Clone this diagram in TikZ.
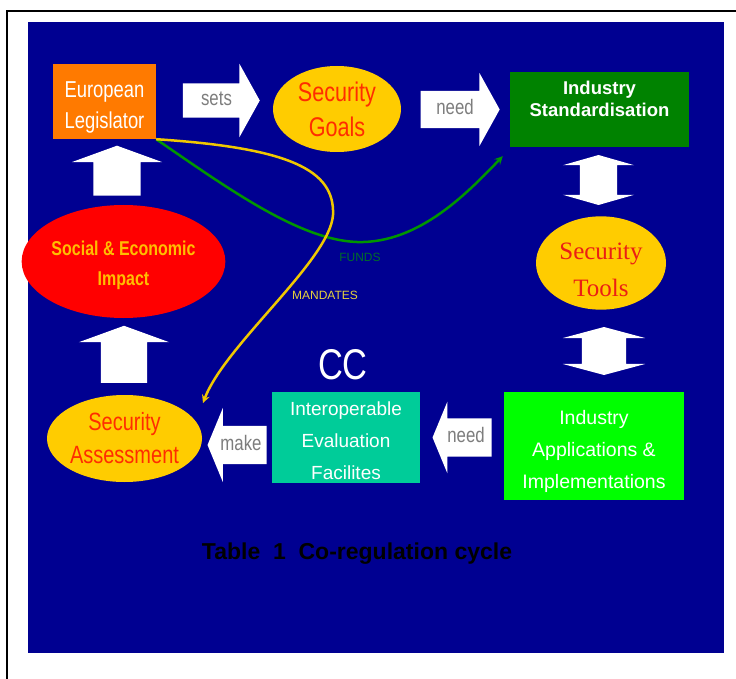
\documentclass[tikz,border=0pt]{standalone}
\usepackage{fontspec}
\setmainfont{Liberation Sans}
\newfontfamily\narrowfont[FakeStretch=0.8]{Liberation Sans}
\newfontfamily\toolsfont{Liberation Serif}
\usetikzlibrary{shapes.geometric,shapes.arrows}

\definecolor{bgblue}{RGB}{0,0,145}
\definecolor{legorange}{RGB}{255,122,0}
\definecolor{goalyellow}{RGB}{255,204,0}
\definecolor{goalred}{RGB}{255,45,0}
\definecolor{toolred}{RGB}{235,30,20}
\definecolor{stdgreen}{RGB}{0,130,0}
\definecolor{appgreen}{RGB}{0,255,0}
\definecolor{evalteal}{RGB}{0,204,153}
\definecolor{impactred}{RGB}{255,0,0}
\definecolor{impacttext}{RGB}{255,190,0}
\definecolor{fundgreen}{RGB}{0,150,0}
\definecolor{fundtext}{RGB}{0,110,40}
\definecolor{mandyellow}{RGB}{240,200,0}
\definecolor{mandtext}{RGB}{230,210,60}
\definecolor{verbgray}{RGB}{125,125,125}

\tikzset{
  box/.style={rectangle, inner sep=0pt, align=center, text=white},
  oval/.style={ellipse, inner sep=0pt, align=center},
  blockarrow/.style={single arrow, fill=white, inner xsep=1pt, text=verbgray,
    text height=14pt, text depth=4pt, font=\narrowfont\fontsize{21}{21}\selectfont},
  uparrow/.style={single arrow, fill=white, inner ysep=0pt, shape border rotate=90},
  twoway/.style={double arrow, fill=white, inner ysep=0pt, shape border rotate=90},
  link/.style={line width=2.5pt, -stealth},
}

\begin{document}
\begin{tikzpicture}[x=1pt,y=-1pt]
\useasboundingbox (0,0) rectangle (736,679);
\fill [white] (0,0) rectangle (736,679);
\fill [bgblue] (28,22) rectangle (724,653);
\draw [line width=2.5pt] (7,679) -- (7,11) -- (736,11);

% top row
\node [box, fill=legorange, minimum width=103, minimum height=75, text height=54.5pt, text depth=0pt,
  font=\narrowfont\fontsize{23}{31}\selectfont] (legislator) at (104.5,101.5) {European\\Legislator};
\node [oval, fill=goalyellow, text=goalred, minimum width=128, minimum height=86,
  font=\narrowfont\fontsize{27}{35}\selectfont] (goals) at (337,109) {Security\\Goals};
\node [box, fill=stdgreen, minimum width=179, minimum height=75] (std) at (599.5,109.5) {};
\node [anchor=north, inner sep=0pt, text=white, align=center,
  font=\bfseries\fontsize{18.5}{22}\selectfont] (stdtext) at ([yshift=-9]std.north) {Industry\\Standardisation};

% right column
\node [oval, fill=goalyellow, text=toolred, minimum width=130, minimum height=89,
  text height=66pt, text depth=0pt,
  font=\toolsfont\fontsize{25}{37}\selectfont] (tools) at (601,263) {Security\\Tools};
\node [box, fill=appgreen, minimum width=180, minimum height=108, text height=85pt, text depth=0pt,
  font=\fontsize{19.5}{32}\selectfont] (apps) at (594,446) {Industry\\Applications \&\\Implementations};

% bottom row
\node [box, fill=evalteal, minimum width=148, minimum height=91, text height=84pt, text depth=0pt,
  font=\fontsize{19}{32}\selectfont] (eval) at (346,437.5) {Interoperable\\Evaluation\\Facilites};
\node [text=white, font=\narrowfont\fontsize{43}{43}\selectfont] (cc) at (343,365) {CC};
\node [oval, fill=goalyellow, text=goalred, minimum width=155, minimum height=87,
  font=\narrowfont\fontsize{25}{33}\selectfont] (assess) at (124.5,438.5) {Security\\Assessment};

% left column
\node [oval, fill=impactred, text=impacttext, minimum width=157, minimum height=113,
  text height=48.5pt, text depth=0pt,
  font=\narrowfont\bfseries\fontsize{20}{30}\selectfont] (impact) at (123.5,261.5) {Social \& Economic\\Impact};

% block arrows
\node [blockarrow, minimum width=73, minimum height=77, inner ysep=8pt,
  single arrow head extend=19.5, single arrow tip angle=122] (sets) at (216.5,100.5) {sets};
\node [blockarrow, minimum width=73, minimum height=79, inner ysep=9.5pt,
  single arrow head extend=18, single arrow tip angle=122] (needtop) at (455,109.5) {need};
\node [blockarrow, minimum width=71, minimum height=59, inner ysep=10pt, single arrow head extend=16.5,
  single arrow tip angle=135, shape border rotate=180] (needbot) at (466,437.5) {need};
\node [blockarrow, minimum width=74, minimum height=59, inner ysep=10pt, single arrow head extend=18,
  single arrow tip angle=135, shape border rotate=180] (make) at (241,445) {make};
\node [uparrow, minimum width=90, minimum height=57, inner xsep=23pt,
  single arrow head extend=22, single arrow tip angle=140] (upb) at (124,358.5) {};
\node [uparrow, minimum width=90, minimum height=50, inner xsep=23.5pt,
  single arrow head extend=21.5, single arrow tip angle=140] (upa) at (117,175) {};
\node [twoway, minimum width=71, minimum height=50, inner xsep=18.5pt,
  double arrow head extend=17, double arrow tip angle=148] (dbla) at (598.5,180) {};
\node [twoway, minimum width=82, minimum height=48, inner xsep=22pt,
  double arrow head extend=19, double arrow tip angle=150] (dblb) at (604,351) {};

% funds and mandates
\coordinate (mandtip) at (203,403);
\draw [link, fundgreen] (legislator.south east) .. controls (230,190) and (300,240) .. (357,242)
  .. controls (420,244) and (470,190) .. ([xshift=-7,yshift=-9]std.south west);
\draw [link, mandyellow] (legislator.south east) .. controls (290,148) and (335,170) .. (333,215)
  .. controls (330,260) and (225,345) .. (mandtip);
\node [text=fundtext, font=\fontsize{12}{12}\selectfont] (funds) at (360,257) {FUNDS};
\node [text=mandtext, font=\fontsize{12}{12}\selectfont] (mandates) at (325,295) {MANDATES};

\node [font=\bfseries\fontsize{23}{23}\selectfont] (caption) at (357,554) {Table\ \ 1\ \ Co-regulation cycle};
\end{tikzpicture}
\end{document}
